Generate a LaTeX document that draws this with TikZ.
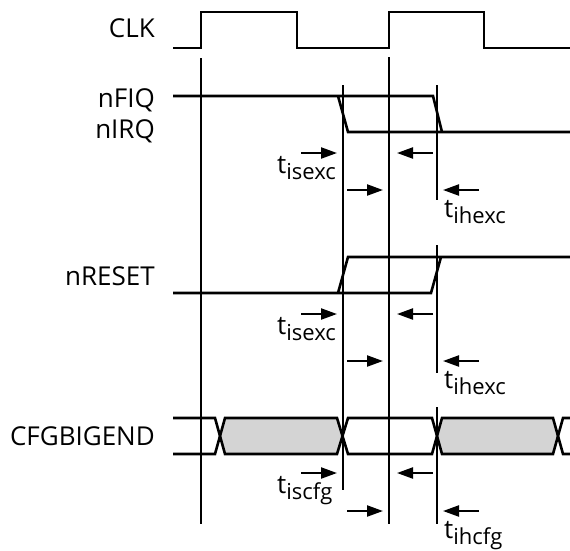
\documentclass[tikz,border=0pt]{standalone}
\usepackage{fontspec}
\setmainfont{Open Sans}
\usetikzlibrary{arrows.meta}

\tikzstyle{wave} = [line width=2.6pt, line join=miter]
\tikzstyle{marker} = [line width=2.2pt]
\tikzstyle{timing} = [line width=2.2pt, -{Triangle[length=16pt,width=11pt]}]
\tikzstyle{signal} = [anchor=base east, inner sep=0pt, font=\fontsize{26}{30}\selectfont]
\tikzstyle{param} = [anchor=base west, inner sep=0pt, font=\fontsize{26}{30}\selectfont]
\tikzstyle{bus} = [fill={rgb,255:red,212;green,212;blue,212}]
\newcommand{\tparam}[1]{t\raisebox{-6pt}{\fontsize{22}{24}\selectfont #1}}

\begin{document}
\begin{tikzpicture}[x=1pt, y=-1pt]
  \useasboundingbox (0,0) rectangle (570,550);

  % signal names
  \node (clk) [signal] at (155,37) {CLK};
  \node (nfiq) [signal] at (155,107) {nFIQ};
  \node (nirq) [signal] at (155,138) {nIRQ};
  \node (nreset) [signal] at (155,285) {nRESET};
  \node (cfg) [signal] at (155,445) {CFGBIGEND};

  % clock
  \draw[wave] (173,48) -- (201,48) -- (201,12) -- (297,12) -- (297,48)
    -- (389,48) -- (389,12) -- (484,12) -- (484,48) -- (570,48);

  % nFIQ / nIRQ
  \draw[wave] (173,96) -- (433,96) -- (442,132);
  \draw[wave] (338,96) -- (348,132) -- (570,132);

  % nRESET
  \draw[wave] (173,293) -- (431,293) -- (441,257);
  \draw[wave] (338,293) -- (348,257) -- (570,257);

  % CFGBIGEND
  \fill[bus] (220,436) -- (225,418) -- (337,418) -- (342.5,436) -- (337,454) -- (225,454) -- cycle;
  \fill[bus] (437,436) -- (442,418) -- (553,418) -- (558,436) -- (553,454) -- (442,454) -- cycle;
  \draw[wave] (173,418) -- (215,418) -- (225,454) -- (337,454) -- (348,418) -- (432,418)
    -- (442,454) -- (553,454) -- (563,418) -- (570,418);
  \draw[wave] (173,454) -- (215,454) -- (225,418) -- (337,418) -- (348,454) -- (432,454)
    -- (442,418) -- (553,418) -- (563,454) -- (570,454);

  % reference lines
  \draw[marker] (201,58) -- (201,524);
  \draw[marker] (389,57) -- (389,524);
  \draw[marker] (343,85) -- (343,490);
  \draw[marker] (437,85) -- (437,200);
  \draw[marker] (437,245) -- (437,373);
  \draw[marker] (437,407) -- (437,524);

  % setup and hold times
  \foreach \ya/\yb/\sa/\sb in {153/190/isexc/ihexc, 314/361/isexc/ihexc, 473/511/iscfg/ihcfg} {
    \draw[timing] (301,\ya) -- (337,\ya);
    \draw[timing] (433,\ya) -- (397,\ya);
    \draw[timing] (347,\yb) -- (383,\yb);
    \draw[timing] (479,\yb) -- (443,\yb);
    \node (setup-\ya) [param] at (277,\ya+20) {\tparam{\sa}};
    \node (hold-\yb) [param] at (444,\yb+27) {\tparam{\sb}};
  }
\end{tikzpicture}
\end{document}
